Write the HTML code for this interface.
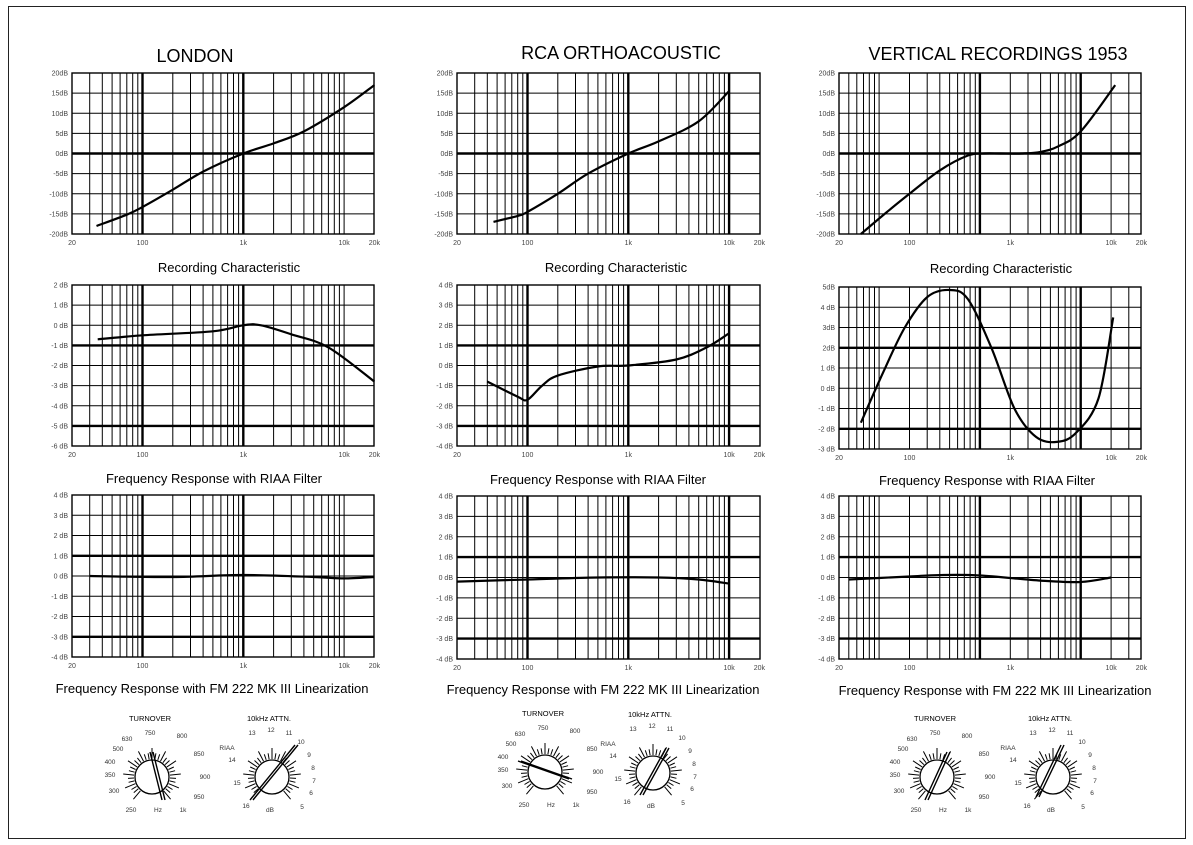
<!DOCTYPE html>
<html><head><meta charset="utf-8"><style>
html,body{margin:0;padding:0;background:#fff}
svg{display:block}
text{font-family:"Liberation Sans",sans-serif}
</style></head><body>
<svg id="s" width="1193" height="845" xmlns="http://www.w3.org/2000/svg"></svg>
<script>
const S=document.getElementById('s');let h='';
h+='<rect x="8.5" y="6.5" width="1177" height="832" fill="none" stroke="#222" stroke-width="1"/>';
const cols=[{x0:72,x1:374},{x0:457,x1:760},{x0:839,x1:1141}];
const D=100.8;
function fx(c,f){return c.x0+D*Math.log10(f/20);}
function grid(ci,y0,y1,labels,thickRows){
 const c=cols[ci];let g='';
 const rh=(y1-y0)/8;
 for(let d=1;d<=10000;d*=10){for(let m=1;m<10;m++){
   let f=d*m; let x=c.x0+D*(Math.log10(f/20)) - (ci==2?D*0.301:0);
   if(x<c.x0+1||x>c.x1-1)continue;
   let thick=(m==1&&(f==100||f==1000||(ci!=0&&f==10000)));
   if(ci==2) thick=(m==1&&(f==1000||f==10000));
   g+=`<line x1="${x.toFixed(1)}" y1="${y0}" x2="${x.toFixed(1)}" y2="${y1}" stroke="#000" stroke-width="${thick?2.4:1}"/>`;
 }}
 for(let i=0;i<=8;i++){let y=y0+i*rh;let t=thickRows.includes(i);
  g+=`<line x1="${c.x0}" y1="${y.toFixed(1)}" x2="${c.x1}" y2="${y.toFixed(1)}" stroke="#000" stroke-width="${t?2.4:1}"/>`;
  g+=`<text x="${c.x0-4}" y="${(y+2.5).toFixed(1)}" font-size="7" fill="#444" text-anchor="end">${labels[i]}</text>`;}
 g+=`<rect x="${c.x0}" y="${y0}" width="${c.x1-c.x0}" height="${y1-y0}" fill="none" stroke="#000" stroke-width="1.4"/>`;
 const xl=[[20,'20'],[100,'100'],[1000,'1k'],[10000,'10k'],[20000,'20k']];
 for(const [f,t] of xl){g+=`<text x="${fx(c,f).toFixed(1)}" y="${y1+11}" font-size="7" fill="#444" text-anchor="middle">${t}</text>`;}
 return g;
}
function curve(ci,y0,y1,top,bot,pts){
 const c=cols[ci];const k=(y1-y0)/(top-bot);
 const P=pts.map(([f,v])=>[fx(c,f),y0+(top-v)*k]);
 let d='M'+P[0][0].toFixed(1)+' '+P[0][1].toFixed(1);
 for(let i=0;i<P.length-1;i++){const p0=P[i-1]||P[i],p1=P[i],p2=P[i+1],p3=P[i+2]||p2;
  const c1=[p1[0]+(p2[0]-p0[0])/6,p1[1]+(p2[1]-p0[1])/6],c2=[p2[0]-(p3[0]-p1[0])/6,p2[1]-(p3[1]-p1[1])/6];
  d+=` C${c1[0].toFixed(1)} ${c1[1].toFixed(1)} ${c2[0].toFixed(1)} ${c2[1].toFixed(1)} ${p2[0].toFixed(1)} ${p2[1].toFixed(1)}`;}
 return `<path d="${d}" fill="none" stroke="#000" stroke-width="2.2"/>`;
}
const L1=['20dB','15dB','10dB','5dB','0dB','-5dB','-10dB','-15dB','-20dB'];
const R3=['4 dB','3 dB','2 dB','1 dB','0 dB','-1 dB','-2 dB','-3 dB','-4 dB'];
for(let i=0;i<3;i++)h+=grid(i,73,234,L1,[4]);
h+=curve(0,73,234,20,-20,[[35,-18],[70,-15.2],[100,-13.3],[200,-9],[400,-4.5],[1000,0],[2000,2.5],[4000,5.5],[10000,11.5],[20000,17]]);
h+=curve(1,73,234,20,-20,[[46,-17],[80,-15.5],[100,-14.5],[200,-10],[400,-5],[1000,0],[2000,3],[5000,8],[10000,15.5]]);
h+=curve(2,73,234,20,-20,[[33,-20],[60,-14.5],[100,-10],[200,-4.2],[380,-0.5],[550,0],[800,0],[1300,0],[2000,0.4],[3000,1.8],[5000,5.5],[11000,17]]);
h+=grid(0,285,446,['2 dB','1 dB','0 dB','-1 dB','-2 dB','-3 dB','-4 dB','-5 dB','-6 dB'],[3,7]);
h+=grid(1,285,446,R3,[3,7]);
h+=grid(2,287,449,['5dB','4 dB','3dB','2dB','1 dB','0 dB','-1 dB','-2 dB','-3 dB'],[3,7]);
h+=curve(0,285,446,2,-6,[[36,-0.7],[100,-0.5],[500,-0.3],[1000,0],[1500,0],[3000,-0.45],[7000,-1.1],[20000,-2.8]]);
h+=curve(1,285,446,4,-4,[[40,-0.8],[80,-1.55],[100,-1.7],[140,-1],[200,-0.5],[500,-0.05],[1000,0],[3000,0.3],[6000,0.9],[10000,1.6]]);
h+=curve(2,287,449,5,-3,[[33,-1.7],[55,0.8],[90,3],[150,4.5],[250,4.85],[380,4.4],[650,2],[1100,-1],[1800,-2.4],[2900,-2.65],[4500,-2.2],[7500,-0.5],[10500,3.5]]);
h+=grid(0,495,657,R3,[3,7]);h+=grid(1,496,659,R3,[3,7]);h+=grid(2,496,659,R3,[3,7]);
h+=curve(0,495,657,4,-4,[[30,0],[200,-0.05],[1000,0.05],[5000,-0.05],[10000,-0.12],[20000,-0.05]]);
h+=curve(1,496,659,4,-4,[[20,-0.2],[100,-0.1],[500,0],[2000,0],[5000,-0.1],[10000,-0.3]]);
h+=curve(2,496,659,4,-4,[[25,-0.1],[100,0.05],[200,0.12],[500,0.1],[2000,-0.15],[5000,-0.22],[10000,0]]);
const T=[['LONDON',195,62],['RCA ORTHOACOUSTIC',621,59],['VERTICAL RECORDINGS 1953',998,60]];
for(const [t,x,y] of T)h+=`<text x="${x}" y="${y}" font-size="18" text-anchor="middle">${t}</text>`;
const st=[['Recording Characteristic',[229,616,1001],[272,272,273]],['Frequency Response with RIAA Filter',[214,598,987],[483,484,485]],['Frequency Response with FM 222 MK III Linearization',[212,603,995],[693,694,695]]];
for(const [t,xs,ys] of st)for(let i=0;i<3;i++)h+=`<text x="${xs[i]}" y="${ys[i]}" font-size="13" text-anchor="middle">${t}</text>`;
function knob(cx,cy,labels,needle,title,tx){
 let g=`<text x="${tx}" y="${cy-56}" font-size="7.5" text-anchor="middle">${title}</text>`;
 g+=`<circle cx="${cx}" cy="${cy}" r="17" fill="#fff" stroke="#000" stroke-width="1.3"/>`;
 for(let i=0;i<=30;i++){const a=(-140+i*280/30)*Math.PI/180;const l=i%3==0?11:6;
  const x1=cx+Math.sin(a)*18,y1=cy-Math.cos(a)*18,x2=cx+Math.sin(a)*(18+l),y2=cy-Math.cos(a)*(18+l);
  g+=`<line x1="${x1.toFixed(1)}" y1="${y1.toFixed(1)}" x2="${x2.toFixed(1)}" y2="${y2.toFixed(1)}" stroke="#000" stroke-width="1"/>`;}
 for(const [t,dx,dy] of labels)g+=`<text x="${cx+dx}" y="${cy+dy}" font-size="6.5" fill="#333" text-anchor="middle">${t}</text>`;
 const [ax,ay,bx,by]=needle;
 g+=`<line x1="${cx+ax}" y1="${cy+ay}" x2="${cx+bx}" y2="${cy+by}" stroke="#000" stroke-width="1.4"/>`;
 g+=`<line x1="${cx+ax+3}" y1="${cy+ay}" x2="${cx+bx+3}" y2="${cy+by}" stroke="#000" stroke-width="1.4"/>`;
 return g;
}
const TL=[['250',-21,35],['Hz',6,35],['1k',31,35],['950',47,22],['900',53,2],['850',47,-21],['800',30,-39],['750',-2,-42],['630',-25,-36],['500',-34,-26],['400',-42,-13],['350',-42,0],['300',-38,16]];
const AL=[['13',-20,-42],['12',-1,-45],['11',17,-42],['10',29,-33],['9',37,-20],['8',41,-7],['7',42,6],['6',39,18],['5',30,32],['dB',-2,35],['16',-26,31],['15',-35,8],['14',-40,-15],['RIAA',-45,-27]];
const K=[[152,777,272,777,[-2,-25,10,23],[-22,23,23,-32]],[545,772,653,773,[-27,-11,24,7],[-13,22,13,-25]],[937,777,1053,777,[-12,23,10,-25],[-17,20,8,-32]]];
for(const [a,b,c,d,n1,n2] of K){h+=knob(a,b,TL,n1,'TURNOVER',a-2);h+=knob(c,d,AL,n2,'10kHz ATTN.',c-3);}
S.innerHTML=h;
</script>
</body></html>
